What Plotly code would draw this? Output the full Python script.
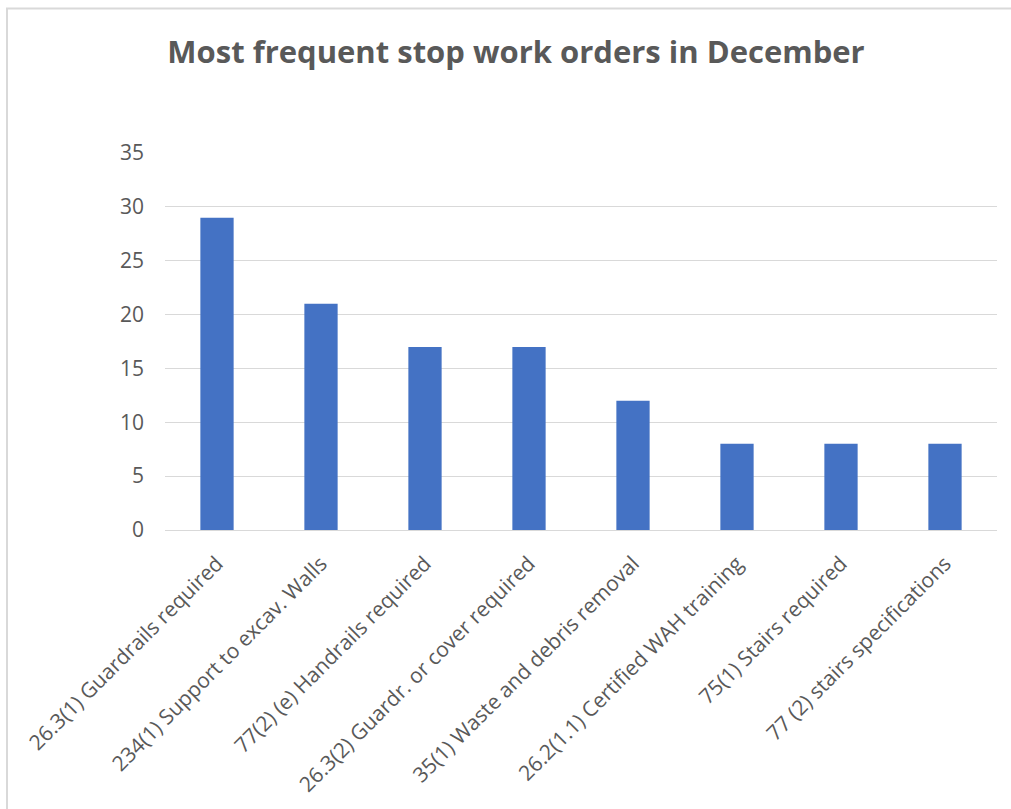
import plotly.graph_objects as go

categories = [
    "26.3(1) Guardrails required",
    "234(1) Support to excav. Walls",
    "77(2) (e) Handrails required",
    "26.3(2) Guardr. or cover required",
    "35(1) Waste and debris removal",
    "26.2(1.1) Certified WAH training",
    "75(1) Stairs required",
    "77 (2) stairs specifications",
]
values = [29, 21, 17, 17, 12, 8, 8, 8]
y_ticks = [0, 5, 10, 15, 20, 25, 30, 35]

W, H = 1011, 809
L, R, T, B = 165, 14, 153, 279
pw, ph = W - L - R, H - T - B

def px(x):
    return (x - L) / pw

def py(y):
    return (H - B - y) / ph

fig = go.Figure(go.Bar(
    x=categories, y=values, marker_color="#4472C4",
    marker_line_width=0, width=0.32,
))

fig.update_layout(
    width=W, height=H,
    margin=dict(l=L, r=R, t=T, b=B),
    paper_bgcolor="white", plot_bgcolor="white",
    font=dict(family="Open Sans, sans-serif", color="#595959"),
    title=dict(text="<b>Most frequent stop work orders in December</b>",
               x=516 / W, xanchor="center", y=1 - 52 / H, yanchor="middle",
               font=dict(size=31, color="#595959")),
    showlegend=False,
)
fig.update_xaxes(tickangle=-45, tickfont=dict(size=21, color="#595959"),
                 showgrid=False, showline=True, linecolor="#d9d9d9",
                 linewidth=1, ticks="", range=[-0.5, 7.5],
                 ticklabelstandoff=12)
fig.update_yaxes(range=[0, 35], tickvals=y_ticks, showgrid=True,
                 gridcolor="#d9d9d9", gridwidth=1, zeroline=False,
                 tickfont=dict(size=21, color="#595959"), ticks="",
                 ticklabelstandoff=20)
# chart-area border (only top and left edges visible in the crop)
fig.add_shape(type="line", xref="paper", yref="paper",
              x0=px(6), x1=px(1012), y0=py(8.5), y1=py(8.5),
              line=dict(color="#d9d9d9", width=2), layer="below")
fig.add_shape(type="line", xref="paper", yref="paper",
              x0=px(7), x1=px(7), y0=py(8), y1=py(812),
              line=dict(color="#d9d9d9", width=2), layer="below")
fig.write_html("out.html", config={"displayModeBar": False},
               post_script="document.body.style.margin='0';")
